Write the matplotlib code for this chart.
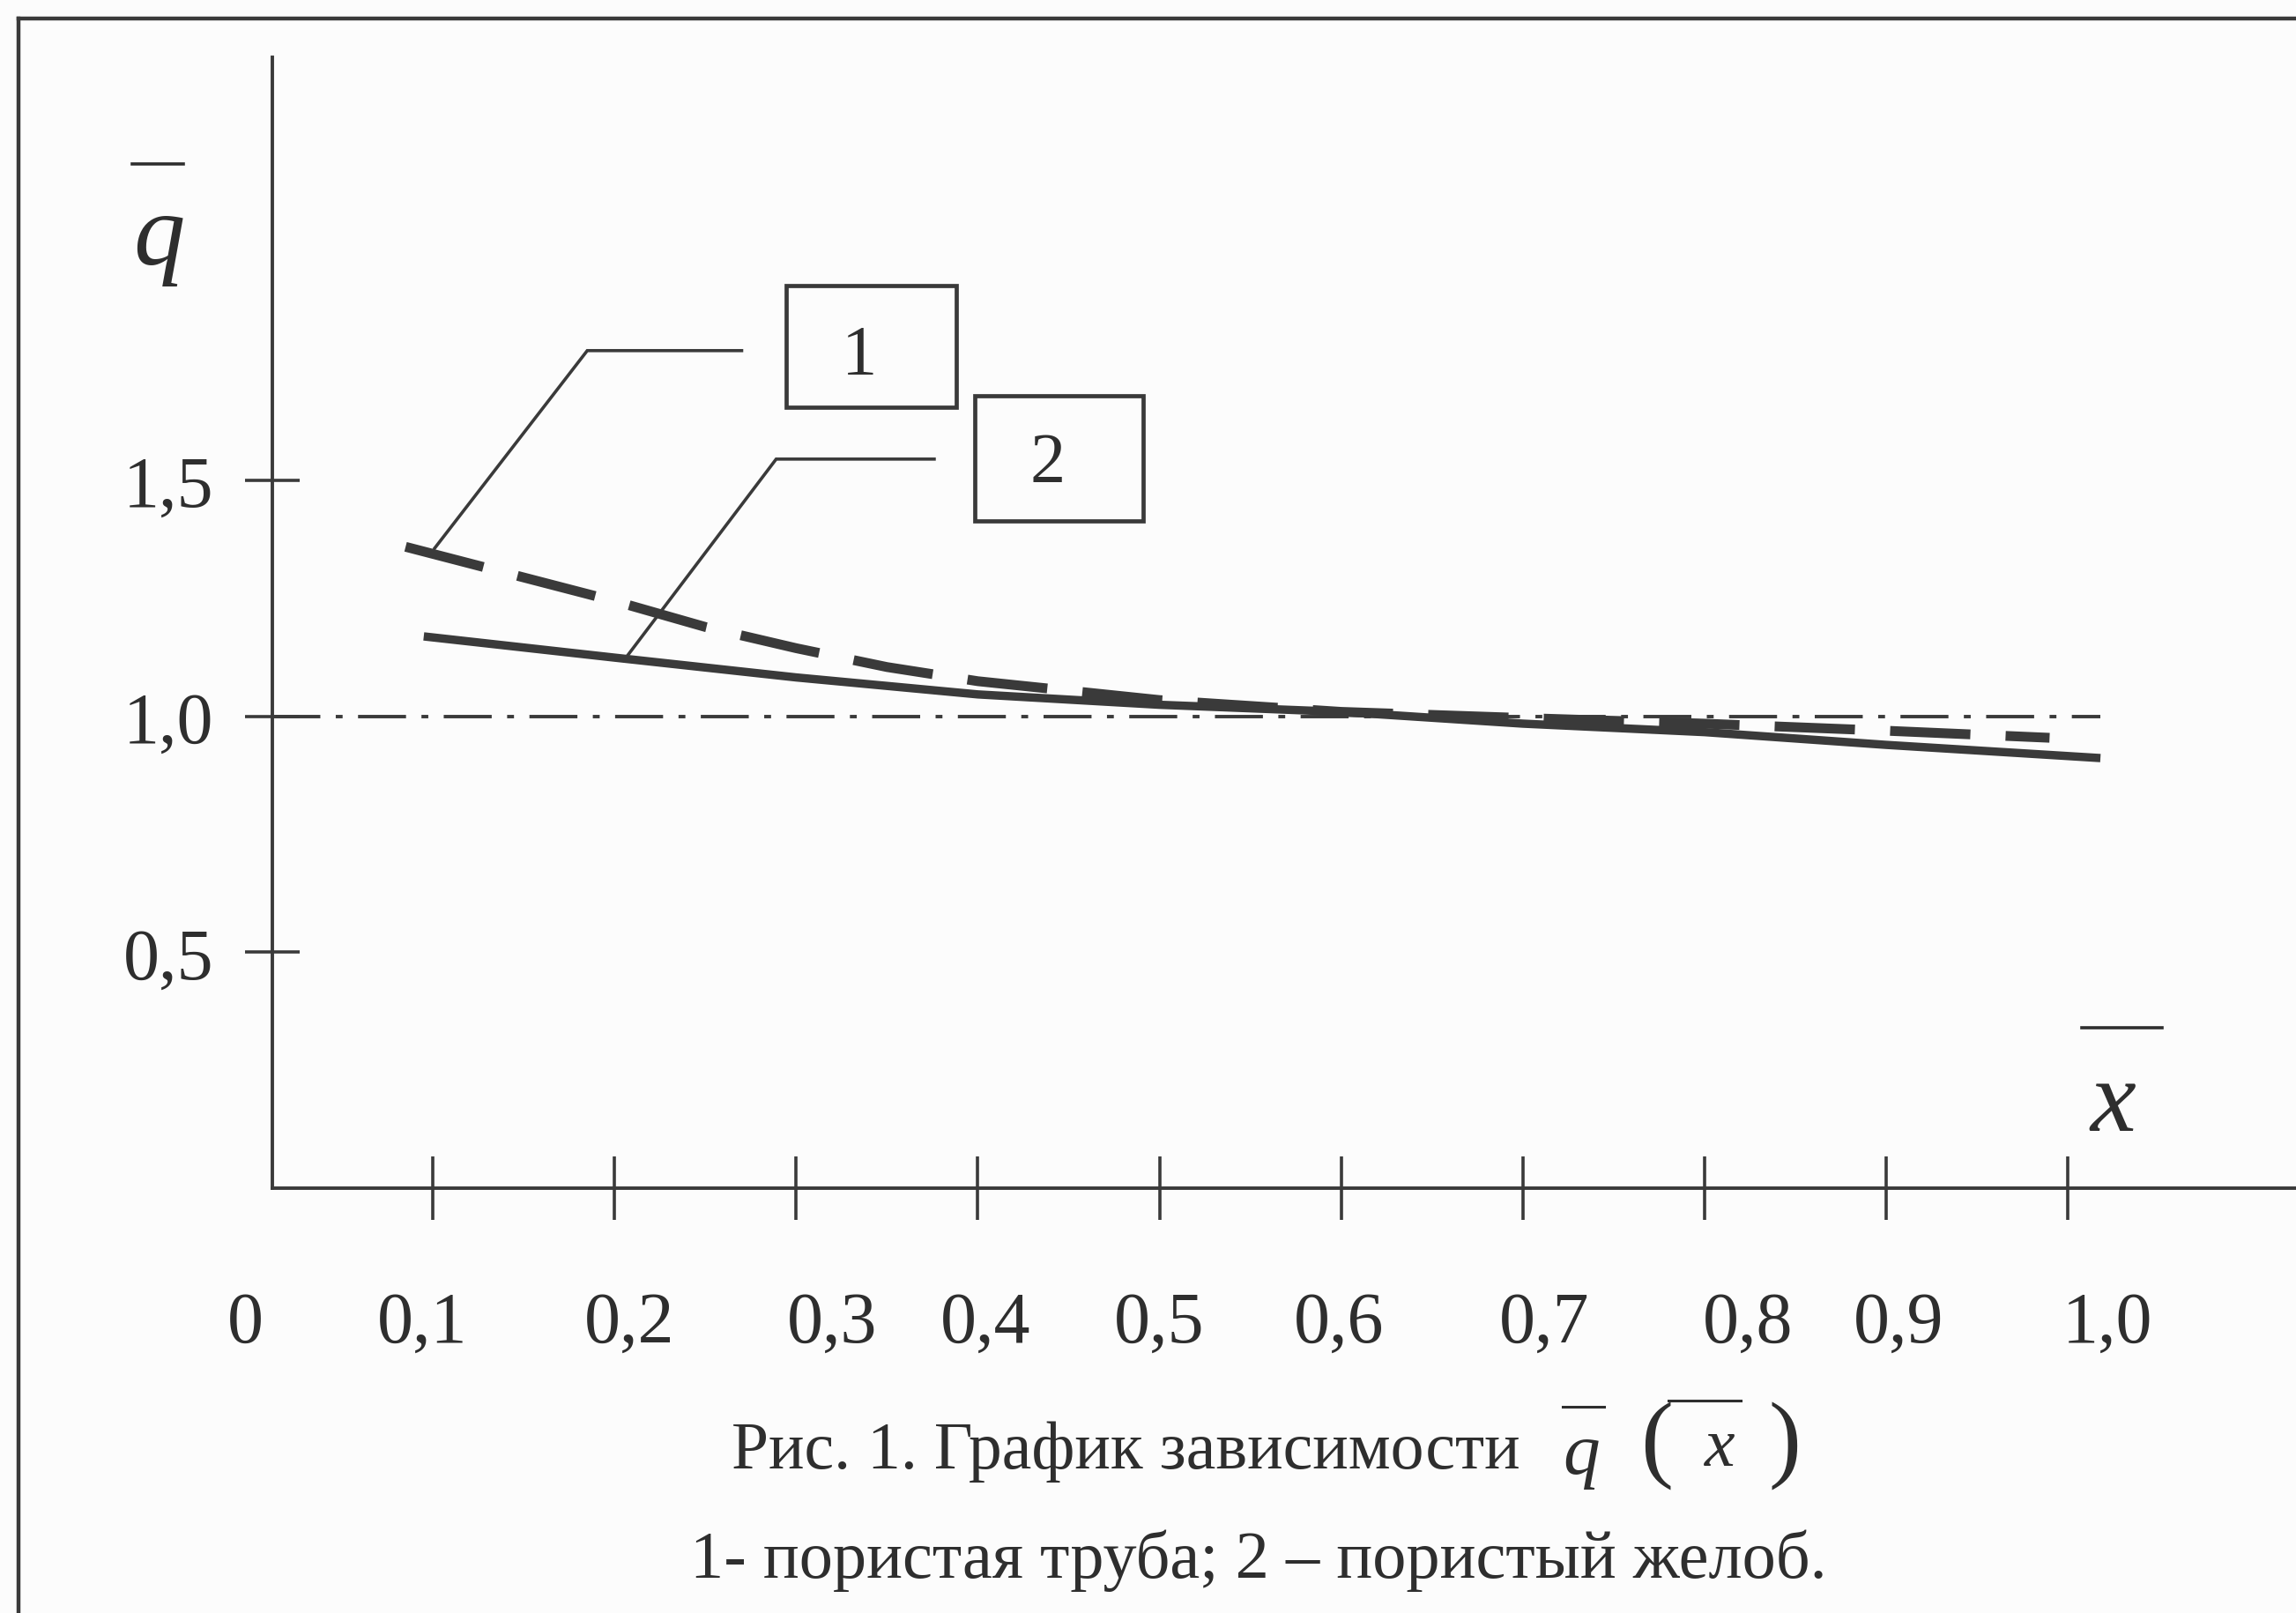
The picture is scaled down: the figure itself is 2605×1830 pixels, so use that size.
import matplotlib
matplotlib.use("Agg")
import matplotlib.pyplot as plt
from matplotlib.lines import Line2D
from matplotlib.patches import Rectangle
from matplotlib.ticker import FixedLocator

# ---------------- data ----------------
x_pipe = [0.085, 0.15, 0.2, 0.25, 0.3, 0.35, 0.4, 0.5, 0.6, 0.7, 0.8, 0.9, 0.99]
q_pipe = [1.36, 1.295, 1.245, 1.19, 1.145, 1.105, 1.075, 1.035, 1.01, 0.997, 0.985, 0.97, 0.955]

x_trough = [0.095, 0.2, 0.3, 0.4, 0.5, 0.6, 0.7, 0.8, 0.9, 1.018]
q_trough = [1.17, 1.125, 1.083, 1.047, 1.025, 1.01, 0.985, 0.967, 0.94, 0.912]

ref_level = 1.0
ref_x = [0.0116, 1.018]

x_ticks = [0.1, 0.2, 0.3, 0.4, 0.5, 0.6, 0.7, 0.8, 0.9, 1.0]
x_label_pos = [-0.003, 0.094, 0.208, 0.320, 0.404, 0.500, 0.599, 0.712, 0.824, 0.907, 1.022]
x_label_txt = ["0", "0,1", "0,2", "0,3", "0,4", "0,5", "0,6", "0,7", "0,8", "0,9", "1,0"]
y_ticks = [0.5, 1.0, 1.5]
y_label_txt = ["0,5", "1,0", "1,5"]

# curve markers (labels in boxes) with leader lines (data coords)
box1 = dict(x0=0.2945, x1=0.388, y0=1.656, y1=1.914, label="1", tx=0.335, ty=1.764)
box2 = dict(x0=0.3984, x1=0.491, y0=1.415, y1=1.680, label="2", tx=0.4386, ty=1.535)
leader1_x = [0.101, 0.185, 0.270]
leader1_y = [1.357, 1.776, 1.776]
leader2_x = [0.2067, 0.289, 0.376]
leader2_y = [1.127, 1.546, 1.546]

caption1 = "Рис. 1. График зависимости"
caption2 = "1- пористая труба; 2 – пористый желоб."

# ---------------- figure ----------------
W, H = 2605, 1831
SERIF = ["Liberation Serif", "DejaVu Serif"]
plt.rcParams["font.family"] = SERIF
INK = "#2e2e2e"
LINE = "#3a3a3a"

fig = plt.figure(figsize=(W / 100, H / 100), dpi=100, facecolor="#fcfcfc")

def fx(px):
    return px / W

def fy(py):
    return 1 - py / H

# axes: x_px = 285 + 2061*x ; y_px = 1349 - 535*y
xmin, xmax = -0.06, 1.126
ymin, ymax = 0.0, 2.398
left_px = 285 + 2061 * xmin
right_px = 285 + 2061 * xmax
ax = fig.add_axes([fx(left_px), fy(1349), (right_px - left_px) / W, (1349 - 66) / H])
ax.set_xlim(xmin, xmax)
ax.set_ylim(ymin, ymax)
ax.patch.set_alpha(0)

for s in ["top", "right"]:
    ax.spines[s].set_visible(False)
ax.spines["left"].set_position(("data", 0.0116))
ax.spines["bottom"].set_bounds(0.0116, xmax)
for s in ["left", "bottom"]:
    ax.spines[s].set_linewidth(2.8)
    ax.spines[s].set_color(LINE)

# x ticks (marks) and labels (separate positions)
ax.xaxis.remove_overlapping_locs = False
ax.xaxis.set_major_locator(FixedLocator(x_ticks))
ax.xaxis.set_major_formatter(plt.NullFormatter())
ax.tick_params(axis="x", which="major", direction="inout", length=52, width=2.6, color=LINE)
ax.xaxis.set_minor_locator(FixedLocator(x_label_pos))
ax.set_xticklabels(x_label_txt, minor=True)
ax.tick_params(axis="x", which="minor", length=0, pad=84, labelsize=59, labelcolor=INK)

ax.set_yticks(y_ticks)
ax.set_yticklabels(y_label_txt)
ax.tick_params(axis="y", which="major", direction="inout", length=44, width=2.6, color=LINE,
               pad=26, labelsize=59, labelcolor=INK)

# reference line q = 1
ax.plot(ref_x, [ref_level, ref_level], color=LINE, lw=2.8,
        dashes=(14, 4.5, 2, 4.5))

# curves
ax.plot(x_pipe, q_pipe, color=LINE, lw=8, dashes=(8.2, 3.6), solid_capstyle="butt",
        dash_capstyle="butt", solid_joinstyle="round")
ax.plot(x_trough, q_trough, color=LINE, lw=6.8, solid_capstyle="butt",
        solid_joinstyle="round")

# leader lines and boxes
for lx, ly in [(leader1_x, leader1_y), (leader2_x, leader2_y)]:
    ax.plot(lx, ly, color=LINE, lw=2.6, solid_joinstyle="miter")
for b in (box1, box2):
    ax.add_patch(Rectangle((b["x0"], b["y0"]), b["x1"] - b["x0"], b["y1"] - b["y0"],
                           fill=False, ec=LINE, lw=3.4))
    ax.text(b["tx"], b["ty"], b["label"], ha="center", va="center",
            fontsize=58, color=INK)

# axis labels (q-bar and x-bar)
fig.text(fx(180), fy(300), "q", fontsize=84, style="italic", color=INK,
         ha="center", va="baseline")
fig.add_artist(Line2D([fx(150), fx(208)], [fy(187), fy(187)], color=INK, lw=2.6))
fig.text(fx(2397), fy(1283), "x", fontsize=84, style="italic", color=INK,
         ha="center", va="baseline")
fig.add_artist(Line2D([fx(2362), fx(2453)], [fy(1167), fy(1167)], color=INK, lw=2.6))

# captions
fig.text(fx(830), fy(1666), caption1, fontsize=54.5, color=INK, ha="left", va="baseline")
fig.text(fx(1794), fy(1672), "q", fontsize=60, style="italic", color=INK,
         ha="center", va="baseline")
fig.add_artist(Line2D([fx(1773), fx(1820)], [fy(1597), fy(1597)], color=INK, lw=2.2))
fig.text(fx(1880), fy(1668), "(", fontsize=80, color=INK, ha="center", va="baseline")
fig.text(fx(1951), fy(1663), "x", fontsize=56, style="italic", color=INK,
         ha="center", va="baseline")
fig.add_artist(Line2D([fx(1893), fx(1975)], [fy(1590), fy(1590)], color=INK, lw=2.2))
fig.text(fx(2025), fy(1668), ")", fontsize=80, color=INK, ha="center", va="baseline")

fig.text(fx(1428), fy(1790), caption2, fontsize=55, color=INK, ha="center", va="baseline")

# page frame
fig.add_artist(Line2D([fx(21), fx(W)], [fy(22), fy(22)], color=LINE, lw=3.2))
fig.add_artist(Line2D([fx(21), fx(21)], [fy(22), fy(H)], color=LINE, lw=3.2))

fig.savefig("out.png", dpi=100, facecolor=fig.get_facecolor())
